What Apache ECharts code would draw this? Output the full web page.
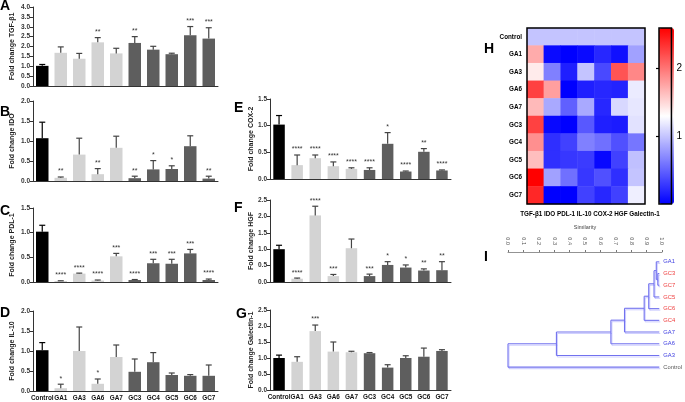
<!DOCTYPE html>
<html><head><meta charset="utf-8">
<script src="https://cdn.jsdelivr.net/npm/echarts@6/dist/echarts.min.js"></script>
<style>html,body{margin:0;padding:0;background:#fff}#c{width:685px;height:402px}</style>
</head><body><div id="c"></div><script>
// ---------------- data ----------------
const groups = ['Control','GA1','GA3','GA6','GA7','GC3','GC4','GC5','GC6','GC7'];
const genes = ['TGF-β1','IDO','PDL-1','IL-10','COX-2','HGF','Galectin-1'];

const tgfMean = [1.02, 1.68, 1.38, 2.21, 1.65, 2.18, 1.84, 1.61, 2.57, 2.40];
const tgfErr  = [0.07, 0.30, 0.27, 0.24, 0.26, 0.32, 0.17, 0.05, 0.44, 0.55];
const tgfSig  = ['', '', '', '**', '', '**', '', '', '***', '***'];

const idoMean = [1.07, 0.08, 0.66, 0.17, 0.83, 0.07, 0.29, 0.30, 0.87, 0.06];
const idoErr  = [0.40, 0.02, 0.41, 0.14, 0.29, 0.05, 0.22, 0.08, 0.26, 0.06];
const idoSig  = ['', '**', '', '**', '', '**', '*', '*', '', '**'];

const pdlMean = [1.02, 0.02, 0.17, 0.03, 0.52, 0.04, 0.38, 0.37, 0.58, 0.04];
const pdlErr  = [0.13, 0.005, 0.01, 0.01, 0.06, 0.01, 0.08, 0.09, 0.08, 0.02];
const pdlSig  = ['', '****', '****', '****', '***', '****', '***', '***', '***', '****'];

const il10Mean = [1.02, 0.07, 1.00, 0.18, 0.85, 0.48, 0.72, 0.40, 0.38, 0.38];
const il10Err  = [0.19, 0.10, 0.60, 0.12, 0.30, 0.32, 0.24, 0.05, 0.03, 0.27];
const il10Sig  = ['', '*', '', '*', '', '', '', '', '', ''];

const coxMean = [1.02, 0.26, 0.39, 0.24, 0.19, 0.17, 0.66, 0.14, 0.51, 0.16];
const coxErr  = [0.17, 0.19, 0.06, 0.08, 0.02, 0.04, 0.21, 0.01, 0.06, 0.01];
const coxSig  = ['', '****', '****', '****', '****', '****', '*', '****', '**', '****'];

const hgfMean = [1.00, 0.10, 2.03, 0.18, 1.03, 0.18, 0.52, 0.44, 0.35, 0.36];
const hgfErr  = [0.12, 0.02, 0.28, 0.05, 0.28, 0.06, 0.10, 0.08, 0.05, 0.26];
const hgfSig  = ['', '****', '****', '***', '', '***', '*', '*', '**', '**'];

const galMean = [1.00, 0.88, 1.84, 1.20, 1.18, 1.15, 0.70, 1.00, 1.04, 1.22];
const galErr  = [0.09, 0.16, 0.19, 0.30, 0.03, 0.02, 0.09, 0.07, 0.27, 0.04];
const galSig  = ['', '', '***', '', '', '', '', '', '', ''];

const heatRows = [
  [1.00, 1.00, 1.00, 1.00, 1.00, 1.00, 1.00],
  [1.73, 0.05, 0.00, 0.05, 0.20, 0.08, 0.82],
  [1.40, 0.65, 0.16, 1.00, 0.37, 2.17, 1.91],
  [2.27, 1.79, 0.00, 0.16, 0.20, 0.18, 1.20],
  [1.65, 0.86, 0.49, 0.86, 0.20, 1.10, 1.18],
  [2.27, 0.04, 0.00, 0.45, 0.16, 0.14, 1.15],
  [1.87, 0.24, 0.33, 0.65, 0.57, 0.41, 0.60],
  [1.63, 0.24, 0.28, 0.30, 0.04, 0.33, 0.98],
  [2.60, 0.82, 0.57, 0.28, 0.41, 0.24, 1.00],
  [2.40, 0.00, 0.00, 0.33, 0.20, 0.33, 1.22]
];
const colorTicks = [1, 2];

// dendrogram
const leaves = ['GA1','GC3','GC7','GC5','GC6','GC4','GA7','GA6','GA3','Control'];
const merges = [
  ['GC3', 'GC7', 0.99],
  ['GA1', 0, 0.98],
  [1, 'GC5', 0.965],
  [2, 'GC6', 0.93],
  [3, 'GC4', 0.90],
  [4, 'GA7', 0.77],
  [5, 'GA6', 0.68],
  [6, 'GA3', 0.32],
  [7, 'Control', 0.00]
];

// ---------------- layout ----------------
const FONT = 'Liberation Sans, Arial, Helvetica, sans-serif';
const panels = [
  {letter:'A', gene:genes[0], mean:tgfMean, err:tgfErr, sig:tgfSig, max:4.0, left:33, width:185, top:7,   height:79, xlab:false, gap:17, bw:12.5, lx:0,   ly:-1},
  {letter:'B', gene:genes[1], mean:idoMean, err:idoErr, sig:idoSig, max:2.0, left:33, width:185, top:101, height:80, xlab:false, gap:17, bw:12.5, lx:0,   ly:105},
  {letter:'C', gene:genes[2], mean:pdlMean, err:pdlErr, sig:pdlSig, max:1.5, left:33, width:185, top:208, height:74, xlab:false, gap:17, bw:12.5, lx:0,   ly:204},
  {letter:'D', gene:genes[3], mean:il10Mean, err:il10Err, sig:il10Sig, max:2.0, left:33, width:185, top:311, height:80, xlab:true, gap:17, bw:12.5, lx:0, ly:306},
  {letter:'E', gene:genes[4], mean:coxMean, err:coxErr, sig:coxSig, max:1.5, left:270, width:181, top:99,  height:80, xlab:false, gap:13, bw:11.5, lx:234, ly:101},
  {letter:'F', gene:genes[5], mean:hgfMean, err:hgfErr, sig:hgfSig, max:2.5, left:270, width:181, top:200, height:82, xlab:false, gap:13, bw:11.5, lx:234, ly:201},
  {letter:'G', gene:genes[6], mean:galMean, err:galErr, sig:galSig, max:2.5, left:270, width:181, top:310, height:80, xlab:true, gap:13, bw:11.5, lx:236, ly:307}
];

function barColor(g) {
  if (g === 'Control') return '#000000';
  if (g.indexOf('GA') === 0) return '#d3d3d3';
  return '#5e5e5e';
}

const grids = [], xAxes = [], yAxes = [], series = [], titles = [];

panels.forEach((p, k) => {
  grids.push({left:p.left, top:p.top, width:p.width, height:p.height});
  xAxes.push({
    gridIndex:k, type:'category', data:groups,
    axisLine:{lineStyle:{color:'#333', width:1}},
    axisTick:{alignWithLabel:true, length:3, lineStyle:{color:'#333'}},
    axisLabel:{show:p.xlab, interval:0, fontSize:6.4, fontWeight:'bold', color:'#111', margin:4, fontFamily:FONT}
  });
  yAxes.push({
    gridIndex:k, type:'value', min:0, max:p.max, interval:0.5,
    name:'Fold change ' + p.gene, nameLocation:'middle', nameGap:p.gap,
    nameTextStyle:{fontSize:7, fontWeight:'bold', color:'#222', fontFamily:FONT},
    axisLine:{show:true, lineStyle:{color:'#333', width:1}},
    axisTick:{show:true, length:3, lineStyle:{color:'#333'}},
    splitLine:{show:false},
    axisLabel:{formatter:v => v.toFixed(1), fontSize:6.5, fontWeight:'bold', color:'#333', margin:3, fontFamily:FONT}
  });
  series.push({
    type:'bar', xAxisIndex:k, yAxisIndex:k, barWidth:p.bw, silent:true,
    data:p.mean.map((v, i) => ({value:v, itemStyle:{color:barColor(groups[i])}}))
  });
  series.push({
    type:'custom', xAxisIndex:k, yAxisIndex:k, silent:true, z:3,
    data:p.mean.map((v, i) => [i, v, p.err[i]]),
    renderItem:(params, api) => {
      const i = api.value(0), m = api.value(1), e = api.value(2);
      const b = api.coord([i, m]);
      const t = api.coord([i, m + e]);
      const col = i === 0 ? '#000' : '#444';
      const s = p.sig[params.dataIndex];
      const ch = [
        {type:'line', shape:{x1:b[0], y1:b[1], x2:t[0], y2:t[1]}, style:{stroke:col, lineWidth:1.2}},
        {type:'line', shape:{x1:t[0]-3, y1:t[1], x2:t[0]+3, y2:t[1]}, style:{stroke:col, lineWidth:1.2}}
      ];
      if (s) ch.push({type:'text', x:t[0], y:t[1]-2, style:{text:s, fill:'#333', fontSize:7, fontFamily:FONT, align:'center', verticalAlign:'bottom'}});
      return {type:'group', children:ch};
    }
  });
  titles.push({text:p.letter, left:p.lx, top:p.ly, padding:0, textStyle:{fontSize:14, fontWeight:'bold', color:'#000', fontFamily:FONT}});
});

// heatmap grid
const hg = grids.length;
grids.push({left:527, top:28, width:118, height:176, show:true, borderColor:'#000', borderWidth:1.5, backgroundColor:'transparent', z:5});
xAxes.push({gridIndex:hg, type:'category', data:genes, axisLabel:{show:false}, axisTick:{show:false}, axisLine:{show:false}});
yAxes.push({gridIndex:hg, type:'category', data:groups, inverse:true, axisTick:{show:false}, axisLine:{show:false},
  axisLabel:{fontSize:6.3, fontWeight:'bold', color:'#000', margin:5, fontFamily:FONT}});
const heatData = [];
heatRows.forEach((row, r) => row.forEach((v, c) => heatData.push([c, r, v])));
const heatIndex = series.length;
series.push({type:'heatmap', xAxisIndex:hg, yAxisIndex:hg, data:heatData, silent:true, itemStyle:{borderWidth:0}});
titles.push({text:genes.join(' '), left:590, top:211, textAlign:'center', padding:0, textStyle:{fontSize:6.3, fontWeight:'bold', color:'#000', fontFamily:FONT}});
titles.push({text:'H', left:484, top:42, padding:0, textStyle:{fontSize:14, fontWeight:'bold', color:'#000', fontFamily:FONT}});
titles.push({text:'I', left:484, top:250, padding:0, textStyle:{fontSize:14, fontWeight:'bold', color:'#000', fontFamily:FONT}});

// colour bar axis grid
const cg = grids.length;
grids.push({left:659, top:28, width:15, height:176, show:true, borderColor:'#000', borderWidth:1.5, backgroundColor:'transparent', z:6});
xAxes.push({gridIndex:cg, type:'value', show:false, min:0, max:1});
yAxes.push({gridIndex:cg, type:'value', position:'right', min:0, max:2.6, interval:1,
  axisLine:{show:false}, splitLine:{show:false},
  axisTick:{show:true, inside:true, length:3, lineStyle:{color:'#000', width:1.2}, customValues:colorTicks},
  axisLabel:{customValues:colorTicks, fontSize:10, color:'#000', margin:5, fontFamily:FONT}});

// similarity axis grid
const sg = grids.length;
grids.push({left:508, top:248, width:154, height:4});
xAxes.push({gridIndex:sg, type:'value', position:'top', min:0, max:1, interval:0.1,
  name:'Similarity', nameLocation:'middle', nameGap:18, nameTextStyle:{fontSize:5.5, color:'#444', fontFamily:FONT},
  axisLine:{lineStyle:{color:'#777', width:0.8}}, axisTick:{length:2, lineStyle:{color:'#777'}}, splitLine:{show:false},
  axisLabel:{rotate:-90, fontSize:5.5, color:'#555', margin:3, formatter:v => v.toFixed(1), fontFamily:FONT}});
yAxes.push({gridIndex:sg, type:'value', show:false});

// dendrogram grid
const dg = grids.length;
grids.push({left:508, top:256, width:154, height:117});
xAxes.push({gridIndex:dg, type:'value', show:false, min:0, max:1});
const dyv = yAxes.length;
yAxes.push({gridIndex:dg, type:'value', show:false, min:-0.5, max:leaves.length - 0.5, inverse:true});
yAxes.push({gridIndex:dg, type:'category', data:leaves, inverse:true, position:'right',
  axisLine:{show:false}, axisTick:{show:false},
  axisLabel:{fontSize:5.8, margin:4, fontFamily:FONT,
    color:(v) => v.indexOf('GA') === 0 ? '#3b3be0' : (v.indexOf('GC') === 0 ? '#ee3a3a' : '#555')}});

function nodePos(ref) {
  if (typeof ref === 'string') return [1, leaves.indexOf(ref)];
  const m = merges[ref];
  const a = nodePos(m[0]), b = nodePos(m[1]);
  return [m[2], (a[1] + b[1]) / 2];
}
series.push({
  type:'custom', xAxisIndex:dg, yAxisIndex:dyv, silent:true,
  data:merges.map((m, k) => [k]),
  renderItem:(params, api) => {
    const m = merges[params.dataIndex];
    const a = nodePos(m[0]), b = nodePos(m[1]);
    const pa0 = api.coord([a[0], a[1]]), pa1 = api.coord([m[2], a[1]]);
    const pb0 = api.coord([b[0], b[1]]), pb1 = api.coord([m[2], b[1]]);
    const st = {stroke:'#7272ee', lineWidth:1.1, shadowColor:'rgba(120,120,255,0.35)', shadowOffsetX:1, shadowOffsetY:1.5};
    return {type:'group', children:[
      {type:'line', shape:{x1:pa0[0], y1:pa0[1], x2:pa1[0], y2:pa1[1]}, style:st},
      {type:'line', shape:{x1:pb0[0], y1:pb0[1], x2:pb1[0], y2:pb1[1]}, style:st},
      {type:'line', shape:{x1:pa1[0], y1:pa1[1], x2:pb1[0], y2:pb1[1]}, style:st}
    ]};
  }
});

const option = {
  animation:false,
  backgroundColor:'#fff',
  textStyle:{fontFamily:FONT},
  title:titles,
  grid:grids,
  xAxis:xAxes,
  yAxis:yAxes,
  visualMap:{
    type:'continuous', min:0, max:2.6, seriesIndex:heatIndex, orient:'vertical',
    left:659, top:28, itemWidth:15, itemHeight:176, padding:0, calculable:false,
    text:null, hoverLink:false, z:4,
    inRange:{color:['#0000ff', '#ffffff', '#ff0000']}
  },
  series:series
};
const chart = echarts.init(document.getElementById('c'), null, {renderer:'canvas'});
chart.setOption(option);
</script></body></html>
